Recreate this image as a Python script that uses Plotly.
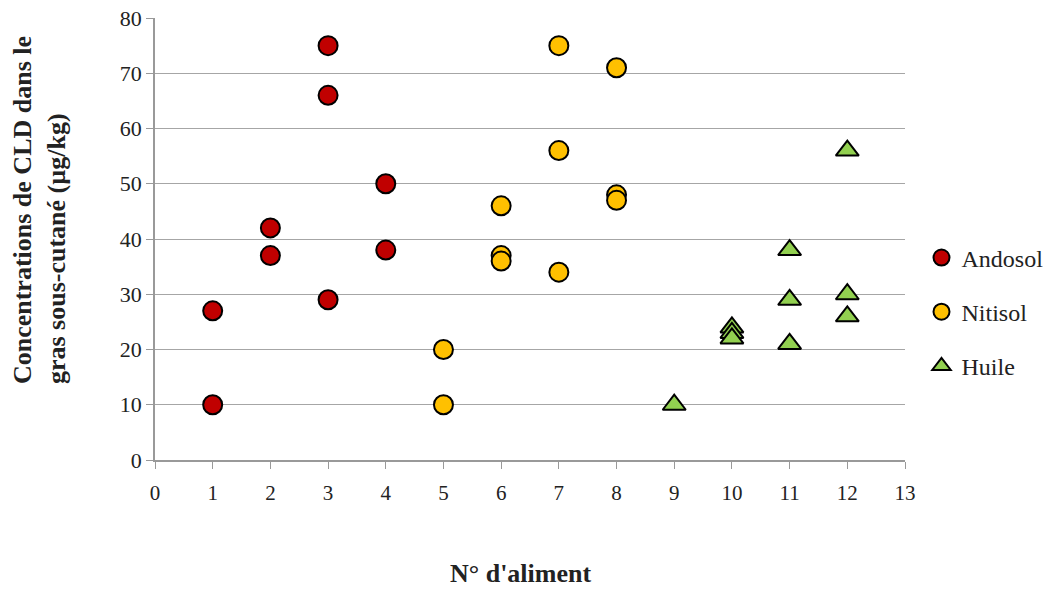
import plotly.graph_objects as go

andosol_x = [1, 1, 2, 2, 3, 3, 3, 4, 4]
andosol_y = [27, 10, 42, 37, 75, 66, 29, 50, 38]
nitisol_x = [5, 5, 6, 6, 6, 7, 7, 7, 8, 8, 8]
nitisol_y = [20, 10, 46, 37, 36, 75, 56, 34, 71, 48, 47]
huile_x = [9, 10, 10, 10, 11, 11, 11, 12, 12, 12]
huile_y = [10, 24, 23, 22, 38, 29, 21, 56, 30, 26]
x_ticks = list(range(0, 14))
y_ticks = list(range(0, 90, 10))

font_family = "Times New Roman, Liberation Serif, serif"

fig = go.Figure()
fig.add_trace(go.Scatter(x=andosol_x, y=andosol_y, mode="markers", name="Andosol",
                         legendgroup="a",
                         marker=dict(symbol="circle", size=19, color="#C00000",
                                     line=dict(color="black", width=2))))
fig.add_trace(go.Scatter(x=nitisol_x, y=nitisol_y, mode="markers", name="Nitisol",
                         legendgroup="n",
                         marker=dict(symbol="circle", size=19, color="#FFC000",
                                     line=dict(color="black", width=2))))
fig.add_trace(go.Scatter(x=huile_x, y=huile_y, mode="markers", name="Huile",
                         legendgroup="h",
                         marker=dict(symbol="triangle-up", size=20, color="#92D050",
                                     line=dict(color="black", width=2))))

fig.update_layout(
    width=1053, height=589,
    margin=dict(l=155, r=148, t=18, b=129, autoexpand=False),
    plot_bgcolor="white", paper_bgcolor="white",
    font=dict(family=font_family, size=20, color="#222"),
    showlegend=True,
    legend=dict(x=1.022, y=0.335, xanchor="left", yanchor="middle",
                traceorder="grouped", tracegroupgap=20,
                font=dict(size=24, family=font_family, color="#222"),
                itemwidth=30),
    xaxis=dict(range=[0, 13], tickvals=x_ticks, ticktext=[str(v) for v in x_ticks],
               showgrid=False, zeroline=False, showline=True, linecolor="#999",
               linewidth=1.5, ticks="outside", ticklen=7, tickcolor="#999",
               tickfont=dict(size=21, family=font_family), ticklabelstandoff=6,
               automargin=False),
    yaxis=dict(range=[0, 80], tickvals=y_ticks, showgrid=True, gridcolor="#a6a6a6",
               gridwidth=1.2, zeroline=False, showline=True, linecolor="#999",
               linewidth=1.5, ticks="outside", ticklen=7, tickcolor="#999",
               tickfont=dict(size=22, family=font_family), automargin=False),
    annotations=[
        dict(text="<b>N° d'aliment</b>", x=0.487, y=-0.2557, xref="paper", yref="paper",
             xanchor="center", yanchor="middle", showarrow=False,
             font=dict(size=26, family=font_family, color="#222")),
        dict(text="<b>Concentrations de CLD dans le<br>gras sous-cutané (µg/kg)</b>",
             x=-0.153, y=0.566, xref="paper", yref="paper", textangle=-90,
             xanchor="center", yanchor="middle", showarrow=False, align="left",
             font=dict(size=26, family=font_family, color="#222")),
    ],
)

fig.write_html("out.html", config={"displayModeBar": False},
               post_script="document.body.style.margin='0';")
